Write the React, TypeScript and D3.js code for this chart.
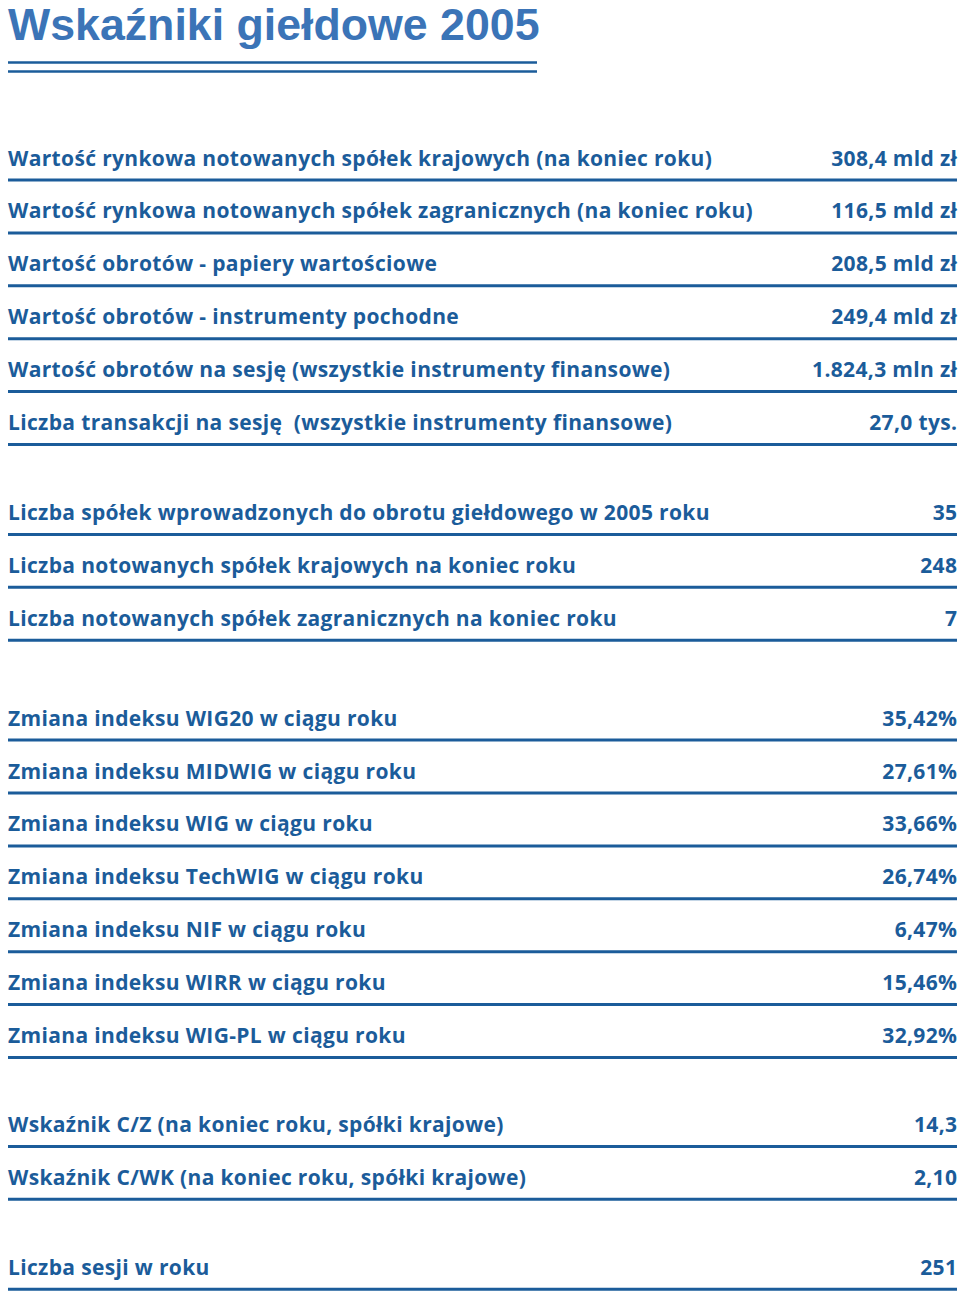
import React from "react";
import * as d3 from "d3";

const title = "Wskaźniki giełdowe 2005";

const marketLabels = [
  "Wartość rynkowa notowanych spółek krajowych (na koniec roku)",
  "Wartość rynkowa notowanych spółek zagranicznych (na koniec roku)",
  "Wartość obrotów - papiery wartościowe",
  "Wartość obrotów - instrumenty pochodne",
  "Wartość obrotów na sesję (wszystkie instrumenty finansowe)",
  "Liczba transakcji na sesję  (wszystkie instrumenty finansowe)",
];
const marketValues = ["308,4 mld zł", "116,5 mld zł", "208,5 mld zł", "249,4 mld zł", "1.824,3 mln zł", "27,0 tys."];

const companyLabels = [
  "Liczba spółek wprowadzonych do obrotu giełdowego w 2005 roku",
  "Liczba notowanych spółek krajowych na koniec roku",
  "Liczba notowanych spółek zagranicznych na koniec roku",
];
const companyValues = ["35", "248", "7"];

const indexLabels = [
  "Zmiana indeksu WIG20 w ciągu roku",
  "Zmiana indeksu MIDWIG w ciągu roku",
  "Zmiana indeksu WIG w ciągu roku",
  "Zmiana indeksu TechWIG w ciągu roku",
  "Zmiana indeksu NIF w ciągu roku",
  "Zmiana indeksu WIRR w ciągu roku",
  "Zmiana indeksu WIG-PL w ciągu roku",
];
const indexValues = ["35,42%", "27,61%", "33,66%", "26,74%", "6,47%", "15,46%", "32,92%"];

const ratioLabels = [
  "Wskaźnik C/Z (na koniec roku, spółki krajowe)",
  "Wskaźnik C/WK (na koniec roku, spółki krajowe)",
];
const ratioValues = ["14,3", "2,10"];

const sessionLabels = ["Liczba sesji w roku"];
const sessionValues = ["251"];

const groups = [
  { labels: marketLabels, values: marketValues },
  { labels: companyLabels, values: companyValues },
  { labels: indexLabels, values: indexValues },
  { labels: ratioLabels, values: ratioValues },
  { labels: sessionLabels, values: sessionValues },
];

// extra space after each group
const groupGaps = [37, 47, 36, 37];

const W = 960;
const H = 1296;
const left = 8;
const right = 957;
const rowStep = 52.9;
const firstRule = 180;

const textBlue = "#1b5c9a";
const titleBlue = "#3b74b7";
const titleFont = "'Liberation Sans', Arial, sans-serif";
const rowFont = "'Open Sans', 'Noto Sans', sans-serif";
const rowSize = 21;
const rowSpacing = 0.35;

export default function App() {
  const rows: { label: string; value: string; slot: number; gap: number }[] = [];
  let slot = 0;
  let gap = 0;
  groups.forEach((g, gi) => {
    g.labels.forEach((label, i) => {
      rows.push({ label, value: g.values[i], slot, gap });
      slot += 1;
    });
    gap += groupGaps[gi] || 0;
  });

  const y = d3.scaleLinear().domain([0, 1]).range([firstRule, firstRule + rowStep]);

  return (
    <svg
      width={W}
      height={H}
      style={{ position: "absolute", left: 0, top: 0, background: "#fff" }}
    >
      <text x={left} y={40} fill={titleBlue} fontFamily={titleFont} fontWeight="bold" fontSize={44.7}>
        {title}
      </text>
      <line x1={left} x2={537} y1={62.5} y2={62.5} stroke={textBlue} strokeWidth={2.5} />
      <line x1={left} x2={537} y1={71.5} y2={71.5} stroke={textBlue} strokeWidth={2.5} />
      {rows.map((r, i) => {
        const ry = y(r.slot) + r.gap;
        return (
          <g key={i}>
            <text
              x={left}
              y={ry - 14.5}
              fill={textBlue}
              fontFamily={rowFont}
              fontWeight="bold"
              fontSize={rowSize}
              letterSpacing={rowSpacing}
              style={{ whiteSpace: "pre" }}
            >
              {r.label}
            </text>
            <text
              x={right + rowSpacing}
              y={ry - 14.5}
              fill={textBlue}
              fontFamily={rowFont}
              fontWeight="bold"
              fontSize={rowSize}
              letterSpacing={rowSpacing}
              textAnchor="end"
            >
              {r.value}
            </text>
            <line x1={left} x2={right} y1={ry} y2={ry} stroke={textBlue} strokeWidth={3} />
          </g>
        );
      })}
    </svg>
  );
}
